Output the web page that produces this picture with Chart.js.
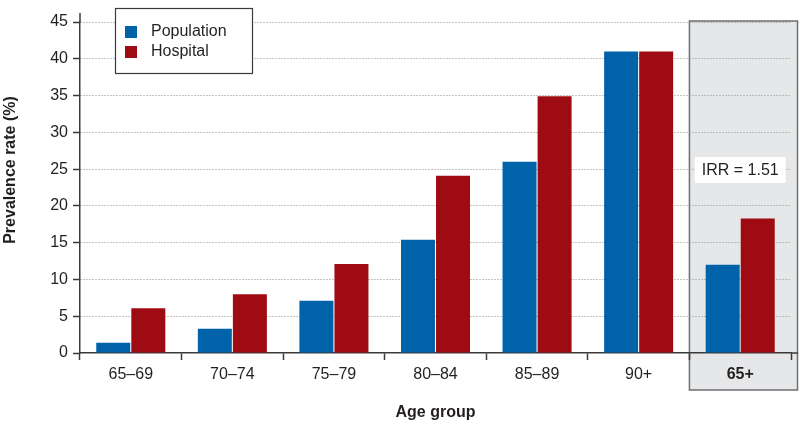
<!DOCTYPE html>
<html>
<head>
<meta charset="utf-8">
<script src="https://cdn.jsdelivr.net/npm/chart.js@4"></script>
<style>
  html, body { margin: 0; padding: 0; background: #fff; }
  #wrap { width: 799px; height: 427px; }
</style>
</head>
<body>
<div id="wrap"><canvas id="chart" width="799" height="427"></canvas></div>
<script>
// data
const ageGroups = ['65–69', '70–74', '75–79', '80–84', '85–89', '90+', '65+']
const population = [1.4, 3.3, 7.1, 15.4, 26.0, 41.0, 12.0]
const hospital = [6.1, 8.0, 12.1, 24.1, 34.9, 41.0, 18.3]
const seriesNames = ['Population', 'Hospital']
const seriesColors = ['#0062a8', '#9f0b13']
const yMax = 45
const yStep = 5
const irrLabel = 'IRR = 1.51'
const xTitle = 'Age group'
const yTitle = 'Prevalence rate (%)'

const textColor = '#231f20'
const fontFamily = "'Liberation Sans', Arial, sans-serif"

// grey "65+" panel, axis extensions, IRR label, y title and legend
const decorations = {
  id: 'decorations',
  beforeDraw(chart) {
    const { ctx, chartArea, scales } = chart
    const x = scales.x
    const last = ageGroups.length - 1
    const left = (x.getPixelForValue(last - 1) + x.getPixelForValue(last)) / 2
    ctx.save()
    ctx.fillStyle = '#e6e7e8'
    ctx.strokeStyle = '#6d6e71'
    ctx.lineWidth = 1.5
    ctx.fillRect(left, chartArea.top - 1, chart.width - 1 - left, 390 - chartArea.top + 1)
    ctx.strokeRect(left, chartArea.top - 1, chart.width - 1.5 - left, 390 - chartArea.top + 1)
    ctx.restore()
  },
  afterDatasetsDraw(chart) {
    const { ctx, chartArea, scales } = chart
    const x = scales.x
    ctx.save()
    // axis extensions
    ctx.strokeStyle = '#3a3a3a'
    ctx.lineWidth = 1.5
    ctx.beginPath()
    ctx.moveTo(chartArea.left, 13)
    ctx.lineTo(chartArea.left, chartArea.top)
    ctx.moveTo(chartArea.right, chartArea.bottom)
    ctx.lineTo(chart.width - 1, chartArea.bottom)
    ctx.stroke()

    // y axis title (sits a bit above the plot centre in the original)
    ctx.save()
    ctx.translate(11, 170)
    ctx.rotate(-Math.PI / 2)
    ctx.font = 'bold 16px ' + fontFamily
    ctx.fillStyle = textColor
    ctx.textAlign = 'center'
    ctx.textBaseline = 'middle'
    ctx.fillText(yTitle, 0, 0)
    ctx.restore()

    // IRR label above the 65+ bars
    const cx = x.getPixelForValue(ageGroups.length - 1)
    ctx.font = '16px ' + fontFamily
    const w = ctx.measureText(irrLabel).width + 14
    ctx.fillStyle = '#ffffff'
    ctx.fillRect(cx - w / 2, 157, w, 26)
    ctx.fillStyle = textColor
    ctx.textAlign = 'center'
    ctx.textBaseline = 'middle'
    ctx.fillText(irrLabel, cx, 170.5)

    // legend box
    ctx.fillStyle = '#ffffff'
    ctx.fillRect(115, 8, 137, 65)
    ctx.strokeStyle = '#3a3a3a'
    ctx.lineWidth = 1.2
    ctx.strokeRect(115.5, 8.5, 137, 65)
    ctx.textAlign = 'left'
    seriesNames.forEach((name, i) => {
      const cy = 32 + i * 20
      ctx.fillStyle = seriesColors[i]
      ctx.fillRect(125, cy - 6, 12, 12)
      ctx.fillStyle = textColor
      ctx.fillText(name, 151, cy)
    })
    ctx.restore()
  }
}

const data = {
  labels: ageGroups,
  datasets: [
    { label: seriesNames[0], data: population, backgroundColor: seriesColors[0] },
    { label: seriesNames[1], data: hospital, backgroundColor: seriesColors[1] }
  ]
}

const config = {
  type: 'bar',
  data: data,
  options: {
    responsive: false,
    animation: false,
    devicePixelRatio: 1,
    datasets: {
      bar: { categoryPercentage: 0.69, barPercentage: 0.97 }
    },
    layout: { padding: { left: 0, right: 8, top: 22, bottom: 0 } },
    plugins: {
      legend: { display: false },
      tooltip: { enabled: false }
    },
    scales: {
      x: {
        afterFit(scale) { scale.height = 74 },
        grid: {
          offset: true,
          drawOnChartArea: false,
          drawTicks: true,
          tickLength: 7,
          tickColor: '#3a3a3a',
          tickWidth: 1.5
        },
        border: { display: true, color: '#3a3a3a', width: 1.5 },
        ticks: {
          color: textColor,
          padding: 5,
          font: ctx => ({
            family: fontFamily,
            size: 16,
            weight: ctx.index === ageGroups.length - 1 ? 'bold' : 'normal'
          })
        },
        title: {
          display: true,
          text: xTitle,
          color: textColor,
          font: { family: fontFamily, size: 16, weight: 'bold' },
          padding: { top: 4, bottom: 5 }
        }
      },
      y: {
        min: 0,
        max: yMax,
        afterFit(scale) { scale.width = 80 },
        grid: {
          color: ctx => (ctx.tick && ctx.tick.value === 0 ? 'rgba(0,0,0,0)' : '#8a8a8a'),
          lineWidth: 1,
          drawTicks: true,
          tickLength: 7,
          tickColor: '#3a3a3a',
          tickWidth: 1.5
        },
        border: { display: true, color: '#3a3a3a', width: 1.5, dash: [1, 2] },
        ticks: {
          stepSize: yStep,
          color: textColor,
          padding: 5,
          font: { family: fontFamily, size: 16 }
        },
        title: { display: false }
      }
    }
  },
  plugins: [decorations]
}

new Chart(document.getElementById('chart'), config)
</script>
</body>
</html>
